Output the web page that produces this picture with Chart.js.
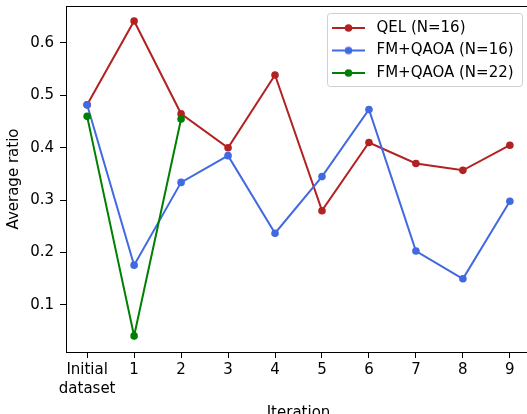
<!DOCTYPE html>
<html>
<head>
<meta charset="utf-8">
<script src="https://cdn.jsdelivr.net/npm/chart.js@4"></script>
<style>
  html, body { margin: 0; padding: 0; overflow: hidden; background: #fff; }
  #wrap { position: absolute; left: 0; top: 0; width: 545px; height: 424px; }
</style>
</head>
<body>
<div id="wrap"><canvas id="myChart" width="545" height="424"></canvas></div>
<script>
// values
const iterations = [0, 1, 2, 3, 4, 5, 6, 7, 8, 9];
const xTickLabels = [['Initial', 'dataset'], '1', '2', '3', '4', '5', '6', '7', '8', '9'];
const yTicks = [0.1, 0.2, 0.3, 0.4, 0.5, 0.6];
const qel16 = [0.482, 0.642, 0.465, 0.400, 0.539, 0.280, 0.410, 0.370, 0.357, 0.405];
const fmqaoa16 = [0.482, 0.176, 0.334, 0.385, 0.237, 0.345, 0.473, 0.203, 0.150, 0.298];
const fmqaoa22 = [0.460, 0.041, 0.455];
const seriesNames = ['QEL (N=16)', 'FM+QAOA (N=16)', 'FM+QAOA (N=22)'];
const seriesColors = ['#b22222', '#4169e1', '#008000'];

const FONT = 'DejaVu Sans';

function toPoints(vals) {
    return vals.map((v, i) => ({ x: iterations[i], y: v }));
}

// legend marker: short line with a dot in the middle, like matplotlib
function markerImage(color) {
    const c = document.createElement('canvas');
    c.width = 37;
    c.height = 10;
    const g = c.getContext('2d');
    g.strokeStyle = color;
    g.lineWidth = 2;
    g.beginPath();
    g.moveTo(0, 5);
    g.lineTo(33, 5);
    g.stroke();
    g.fillStyle = color;
    g.beginPath();
    g.arc(16.5, 5, 3.8, 0, Math.PI * 2);
    g.fill();
    return c;
}
const markers = seriesColors.map(markerImage);

// legend goes in the upper right corner; top spine and legend frame
const framePlugin = {
    id: 'frame',
    afterLayout(chart) {
        const lg = chart.legend;
        const w = lg.width;
        lg.left = 324.5;
        lg.top = 13;
        lg.right = lg.left + w;
        lg.bottom = lg.top + 200;
    },
    afterDraw(chart) {
        const { ctx, chartArea: a } = chart;
        ctx.save();
        ctx.strokeStyle = '#000';
        ctx.lineWidth = 1;
        ctx.beginPath();
        ctx.moveTo(a.left, a.top + 0.5);
        ctx.lineTo(a.right, a.top + 0.5);
        ctx.stroke();
        ctx.strokeStyle = '#d0d0d0';
        ctx.beginPath();
        ctx.roundRect(327.5, 13.5, 195, 73, 3);
        ctx.stroke();
        ctx.restore();
    }
};

const makeSet = (name, vals, color, order) => ({
    label: name,
    data: toPoints(vals),
    borderColor: color,
    backgroundColor: color,
    pointBackgroundColor: color,
    pointBorderWidth: 0,
    pointRadius: 3.8,
    pointHoverRadius: 3.8,
    borderWidth: 2,
    tension: 0,
    order: order
});

document.addEventListener('DOMContentLoaded', () => {
    const canvas = document.getElementById('myChart');
    const ctxl = canvas.getContext('2d');
    new Chart(ctxl, {
        type: 'line',
        data: {
            datasets: [
                makeSet(seriesNames[0], qel16, seriesColors[0], 3),
                makeSet(seriesNames[1], fmqaoa16, seriesColors[1], 2),
                makeSet(seriesNames[2], fmqaoa22, seriesColors[2], 1)
            ]
        },
        options: {
            responsive: false,
            animation: false,
            devicePixelRatio: 1,
            layout: { padding: { top: 6, right: 14, left: 0, bottom: 0 } },
            plugins: {
                tooltip: { enabled: false },
                legend: {
                    position: 'chartArea',
                    align: 'start',
                    labels: {
                        usePointStyle: true,
                        pointStyleWidth: 37,
                        padding: 7.5,
                        color: '#000',
                        font: { family: FONT, size: 15 },
                        generateLabels(chart) {
                            const items = Chart.defaults.plugins.legend.labels.generateLabels(chart);
                            items.forEach((it) => { it.pointStyle = markers[it.datasetIndex]; });
                            return items;
                        },
                        sort: (a, b) => a.datasetIndex - b.datasetIndex
                    }
                }
            },
            scales: {
                x: {
                    type: 'linear',
                    min: -0.45,
                    max: 9.45,
                    afterBuildTicks(scale) {
                        scale.ticks = iterations.map(v => ({ value: v }));
                    },
                    afterFit(scale) {
                        scale.height = 72;
                        scale.paddingLeft = 0;
                        scale.paddingRight = 0;
                    },
                    ticks: {
                        color: '#000',
                        padding: 3,
                        maxRotation: 0,
                        autoSkip: false,
                        font: { family: FONT, size: 15, lineHeight: 1.25 },
                        callback: (v) => xTickLabels[iterations.indexOf(v)]
                    },
                    grid: { drawOnChartArea: false, tickLength: 6, color: '#000' },
                    border: { color: '#000', width: 1 },
                    title: {
                        display: true,
                        text: 'Iteration',
                        color: '#000',
                        font: { family: FONT, size: 15 },
                        padding: { top: 0, bottom: 2 }
                    }
                },
                y: {
                    min: 0.0103,
                    max: 0.6706,
                    afterBuildTicks(scale) {
                        scale.ticks = yTicks.map(v => ({ value: v }));
                    },
                    afterFit(scale) {
                        scale.width = 66;
                        scale.paddingTop = 0;
                        scale.paddingBottom = 0;
                    },
                    ticks: {
                        color: '#000',
                        padding: 6,
                        font: { family: FONT, size: 15 },
                        callback: (v) => v.toFixed(1)
                    },
                    grid: { drawOnChartArea: false, tickLength: 6, color: '#000' },
                    border: { color: '#000', width: 1 },
                    title: {
                        display: true,
                        text: 'Average ratio',
                        color: '#000',
                        font: { family: FONT, size: 15 },
                        padding: { top: 5, bottom: 0 }
                    }
                }
            }
        },
        plugins: [framePlugin]
    });
});
</script>
</body>
</html>
